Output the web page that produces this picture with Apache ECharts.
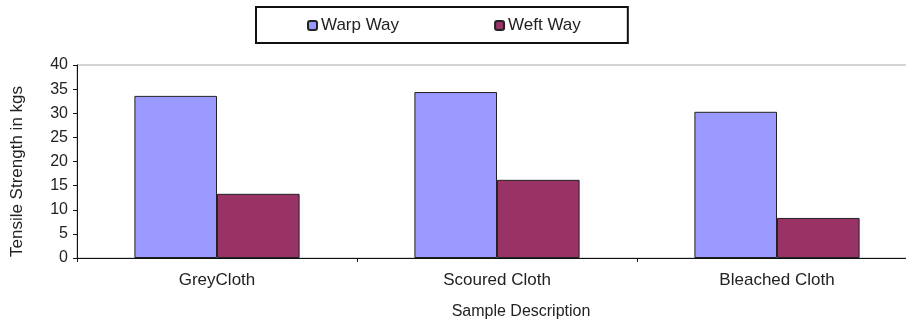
<!DOCTYPE html>
<html>
<head>
<meta charset="utf-8">
<script src="https://cdn.jsdelivr.net/npm/echarts@6/dist/echarts.min.js"></script>
<style>
  html, body { margin: 0; padding: 0; background: #fff; }
  #chart { width: 906px; height: 324px; }
</style>
</head>
<body>
<div id="chart"></div>
<script>
// Tensile strength of cloth samples, warp vs weft direction
const categories = ['GreyCloth', 'Scoured Cloth', 'Bleached Cloth'];
const warpWay = [33.6, 34.4, 30.3];
const weftWay = [13.3, 16.2, 8.3];
const seriesNames = ['Warp Way', 'Weft Way'];
const yTicks = { min: 0, max: 40, step: 5 };

const font = 'Liberation Sans, Arial, sans-serif';
const chart = echarts.init(document.getElementById('chart'));

chart.setOption({
  animation: false,
  backgroundColor: '#fff',
  legend: {
    left: 256,
    top: 7,
    orient: 'horizontal',
    padding: [10, 47, 9, 51],
    itemGap: 95,
    itemWidth: 9,
    itemHeight: 9,
    borderColor: '#111',
    borderWidth: 2,
    textStyle: { fontFamily: font, fontSize: 17, color: '#222', padding: [0, 0, 0, -1] },
    data: seriesNames
  },
  grid: {
    left: 77,
    width: 840,
    top: 65,
    bottom: 66,
    show: true,
    borderColor: '#aaa',
    borderWidth: 1,
    containLabel: false,
    outerBoundsMode: 'none'
  },
  xAxis: {
    type: 'category',
    data: categories,
    name: 'Sample Description',
    nameLocation: 'middle',
    nameGap: 46,
    nameTextStyle: { fontFamily: font, fontSize: 16, color: '#222', padding: [0, 0, 0, 48] },
    axisLine: { lineStyle: { color: '#111', width: 1 } },
    axisTick: { show: true, length: 4, lineStyle: { color: '#111' } },
    axisLabel: { fontFamily: font, fontSize: 17, color: '#222', margin: 14 }
  },
  yAxis: {
    type: 'value',
    min: yTicks.min,
    max: yTicks.max,
    interval: yTicks.step,
    name: 'Tensile Strength in kgs',
    nameLocation: 'middle',
    nameGap: 51,
    nameRotate: 90,
    nameTextStyle: { fontFamily: font, fontSize: 17, color: '#222', padding: [0, 20, 0, 0] },
    axisLine: { show: true, lineStyle: { color: '#111', width: 1 } },
    axisTick: { show: true, length: 4, lineStyle: { color: '#111' } },
    axisLabel: { fontFamily: font, fontSize: 16, color: '#222', margin: 9 },
    splitLine: { show: false }
  },
  series: [
    {
      name: seriesNames[0],
      type: 'bar',
      data: warpWay,
      barGap: '0%',
      barCategoryGap: '41%',
      itemStyle: { color: '#9999FF', borderColor: '#222', borderWidth: 1 }
    },
    {
      name: seriesNames[1],
      type: 'bar',
      data: weftWay,
      itemStyle: { color: '#993366', borderColor: '#222', borderWidth: 1 }
    }
  ]
});
</script>
</body>
</html>
